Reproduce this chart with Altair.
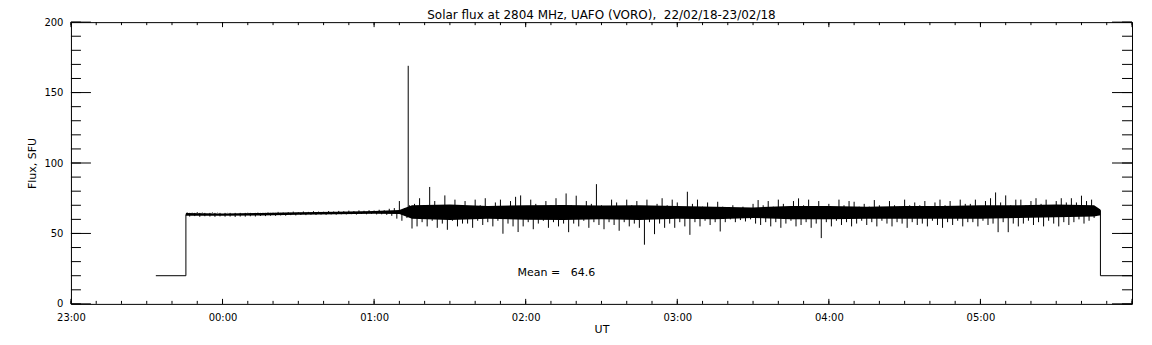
import altair as alt
import pandas as pd

# ---------------- data (time = minutes after 23:00 UT, 22/02/18) ----------------
pre_minutes = [33.6, 45.5, 45.5]
pre_flux = [20, 20, 63.5]
post_minutes = [407.5, 407.5, 420.0]
post_flux = [66.5, 20, 20]

# envelope of the 2-min samples of the record (upper / lower excursion)
noise_start = 46
noise_step = 2
noise_hi = [
    65.0, 64.8, 65.2, 64.9, 64.6, 65.0, 64.8, 64.5, 64.7, 64.4,
    64.6, 64.3, 64.8, 64.5, 64.9, 64.7, 65.0, 64.8, 65.3, 65.0,
    65.2, 65.5, 65.1, 65.6, 65.3, 65.8, 65.5, 65.4, 65.9, 65.6,
    66.0, 65.8, 66.2, 65.9, 66.4, 66.1, 66.5, 66.3, 66.8, 66.5,
    67.5, 68.0, 73.0, 68.0, 70.0,
    71, 75, 69, 83, 73, 68, 77, 70, 74, 69,
    73, 68, 74, 70, 75, 69, 72, 74, 68, 73,
    76, 77, 69, 74, 71, 68, 73, 70, 75, 69,
    78.4, 70, 76.8, 69, 73, 71, 85, 70, 68, 74,
    72, 69, 74, 70, 73, 68, 74, 69, 71, 75,
    70, 74, 72, 68, 79.6, 71, 74, 69, 72, 68,
    72.5, 69, 68, 70, 67.5, 69, 68, 71, 73.7, 70,
    73, 69, 74, 71, 68, 73, 74.9, 70, 74, 69,
    73, 69, 71, 68, 74, 70, 73, 72.5, 69, 71,
    69, 73.7, 70, 68, 73, 70, 69, 74, 70, 72,
    70, 73, 69, 72, 74, 70, 73, 68, 74, 71,
    71, 74, 69, 73, 75, 79.1, 72, 77, 70, 74,
    74, 70, 73, 75, 71, 74, 70, 73, 75, 72,
    75, 72, 76.8, 73, 74, 67,
]
noise_lo = [
    62.0, 62.3, 61.8, 62.2, 62.0, 61.8, 62.1, 61.9, 62.0, 61.7,
    62.0, 61.9, 62.2, 62.0, 62.4, 62.3, 62.6, 62.5, 62.8, 62.6,
    63.0, 62.8, 63.1, 63.0, 63.3, 63.1, 63.4, 63.2, 63.5, 63.3,
    63.6, 63.5, 63.7, 63.4, 63.8, 63.6, 63.9, 63.5, 63.6, 63.2,
    62.5, 60.5, 59.0, 61.0, 53.5,
    55, 58, 55, 59, 54, 57, 52.6, 59, 55, 57,
    57, 54, 59, 56, 58, 55, 59, 49.8, 57, 55,
    51, 55, 58, 53, 57, 59, 54, 58, 55, 57,
    50.9, 57, 55, 59, 54, 58, 56, 53, 58, 56,
    51.9, 58, 55, 57, 54, 42, 58, 49.5, 57, 54,
    57, 54, 58, 55, 49, 58, 55, 59, 56, 58,
    51.4, 58, 60, 58, 59.5, 58.5, 60, 57, 56, 58,
    55, 58, 54, 57, 59, 55, 56, 58, 54, 57,
    46.7, 58, 55, 59, 56, 58, 55, 57, 59, 56,
    58, 55, 59, 57, 55, 58, 57, 54, 58, 56,
    57, 55, 59, 56, 54, 58, 56, 59, 55, 58,
    58, 55, 59, 56, 57, 50.9, 58, 50.9, 57, 55,
    57, 59, 56, 58, 55, 59, 57, 55, 58, 56,
    58, 60, 57, 59, 61, 63,
]

# dense core of the record
core_minutes = [45.5, 60, 75, 90, 105, 120, 130, 135, 150, 165, 180, 195, 210, 225,
                240, 255, 270, 285, 300, 315, 330, 345, 360, 375, 390, 405, 407.5]
core_lo = [62.5, 62.6, 62.8, 63.2, 63.6, 64.0, 63.8, 60.5, 59.5, 60.5, 59.8, 59.5, 60.0, 59.5,
           60.5, 60.0, 61.0, 60.0, 60.0, 60.5, 60.5, 60.5, 60.5, 61.0, 61.5, 62.0, 63.0]
core_hi = [64.5, 64.2, 64.6, 65.0, 65.4, 66.0, 66.6, 70.0, 70.5, 69.5, 70.0, 70.2, 69.8, 70.0,
           69.5, 69.0, 68.5, 69.5, 69.5, 69.0, 69.5, 69.5, 70.0, 70.0, 70.5, 70.0, 67.0]

spike_minutes = [133.5]
spike_top = [169]
spike_base = [64]

mean_value = 64.6
mean_label = "Mean =\u00a0\u00a0\u00a064.6"
mean_minutes = [176.8]
mean_y = [21.8]

y_major = [0, 50, 100, 150, 200]
y_minor = list(range(0, 201, 10))
x_major_minutes = [0, 60, 120, 180, 240, 300, 360, 420]
x_minor_minutes = list(range(0, 421, 10))

title_text = "Solar flux at 2804 MHz, UAFO (VORO),\u00a0 22/02/18-23/02/18"

# ---------------- build tables ----------------
BASE = pd.Timestamp("2018-02-22 23:00")


def at(m):
    return BASE + pd.to_timedelta(m, unit="m")


step_df = pd.DataFrame({
    "t": [at(m) for m in pre_minutes + post_minutes],
    "flux": pre_flux + post_flux,
    "seg": ["pre"] * len(pre_minutes) + ["post"] * len(post_minutes),
    "i": list(range(len(pre_minutes) + len(post_minutes))),
})

hair_rows = []
for k, (h, l) in enumerate(zip(noise_hi, noise_lo)):
    t = noise_start + noise_step * k
    hair_rows.append((at(t), h, min(mean_value, h)))      # upward excursion
    hair_rows.append((at(t + 1), max(mean_value, l), l))  # downward excursion
hair_df = pd.DataFrame(hair_rows, columns=["t", "top", "bottom"])

core_df = pd.DataFrame({"t": [at(m) for m in core_minutes], "lo": core_lo, "hi": core_hi})
spike_df = pd.DataFrame({"t": [at(m) for m in spike_minutes], "top": spike_top, "base": spike_base})
mean_df = pd.DataFrame({"t": [at(m) for m in mean_minutes], "y": mean_y, "label": [mean_label]})
ymaj_df = pd.DataFrame({"v": y_major})
ymin_df = pd.DataFrame({"v": y_minor})
xmaj_df = pd.DataFrame({"t": [at(m) for m in x_major_minutes]})
xmin_df = pd.DataFrame({"t": [at(m) for m in x_minor_minutes]})

W, H = 1062, 282
FONT = "DejaVu Sans"

xscale = alt.Scale(domain=[alt.DateTime(year=2018, month=2, date=22, hours=23),
                           alt.DateTime(year=2018, month=2, date=23, hours=6)])
yscale = alt.Scale(domain=[0, 200], nice=False, zero=False)

hour_values = [alt.DateTime(year=2018, month=2, date=22, hours=23)] + [
    alt.DateTime(year=2018, month=2, date=23, hours=h) for h in range(0, 6)]

x_axis = alt.Axis(orient="bottom", values=hour_values, format="%H:%M", title="UT",
                  ticks=False, domain=False, grid=False, labelFont=FONT, labelFontSize=10,
                  labelColor="black", labelPadding=9, titleFont=FONT, titleFontSize=11,
                  titleFontWeight="normal", titleColor="black", titlePadding=1,
                  labelFlush=False)
y_axis = alt.Axis(orient="left", values=y_major, title="Flux, SFU", ticks=False, domain=False,
                  grid=False, labelFont=FONT, labelFontSize=10, labelColor="black",
                  labelPadding=8, titleFont=FONT, titleFontSize=11, titleFontWeight="normal",
                  titleColor="black", titlePadding=6)

steps = alt.Chart(step_df).mark_line(color="black", strokeWidth=1).encode(
    x=alt.X("t:T", scale=xscale, axis=x_axis),
    y=alt.Y("flux:Q", scale=yscale, axis=y_axis),
    detail="seg:N",
    order="i:Q",
)

core = alt.Chart(core_df).mark_area(color="black", opacity=1).encode(
    x=alt.X("t:T", scale=xscale),
    y=alt.Y("lo:Q", scale=yscale),
    y2="hi:Q",
)

hairs = alt.Chart(hair_df).mark_rule(color="black", strokeWidth=1).encode(
    x=alt.X("t:T", scale=xscale),
    y=alt.Y("bottom:Q", scale=yscale),
    y2="top:Q",
)

spike = alt.Chart(spike_df).mark_rule(color="black", strokeWidth=1).encode(
    x=alt.X("t:T", scale=xscale),
    y=alt.Y("base:Q", scale=yscale),
    y2="top:Q",
)

mean_text = alt.Chart(mean_df).mark_text(align="left", baseline="middle", font=FONT,
                                         fontSize=11, color="black").encode(
    x=alt.X("t:T", scale=xscale),
    y=alt.Y("y:Q", scale=yscale),
    text="label:N",
)


def ytick(df, length, left=True):
    x0, x1 = (0, length) if left else (W - length, W)
    return alt.Chart(df).mark_rule(color="black", strokeWidth=1).encode(
        y=alt.Y("v:Q", scale=yscale),
        x=alt.value(x0), x2=alt.value(x1),
    )


def xtick(df, length, bottom=True):
    y0, y1 = (H, H - length) if bottom else (0, length)
    return alt.Chart(df).mark_rule(color="black", strokeWidth=1).encode(
        x=alt.X("t:T", scale=xscale),
        y=alt.value(y0), y2=alt.value(y1),
    )


chart = alt.layer(
    steps, core, hairs, spike, mean_text,
    ytick(ymin_df, 10, True), ytick(ymaj_df, 20, True),
    ytick(ymin_df, 10, False), ytick(ymaj_df, 20, False),
    xtick(xmin_df, 3, True), xtick(xmaj_df, 5, True),
    xtick(xmin_df, 3, False), xtick(xmaj_df, 5, False),
).properties(
    width=W, height=H,
    title=alt.TitleParams(text=title_text, font=FONT, fontSize=12, fontWeight="normal",
                          color="black", anchor="middle", offset=-5),
    padding={"left": 18, "top": 1, "right": 10, "bottom": 5},
).configure(background="white").configure_view(stroke="black", strokeWidth=1)

chart.save("out.html", embed_options={"renderer": "svg", "actions": False})
